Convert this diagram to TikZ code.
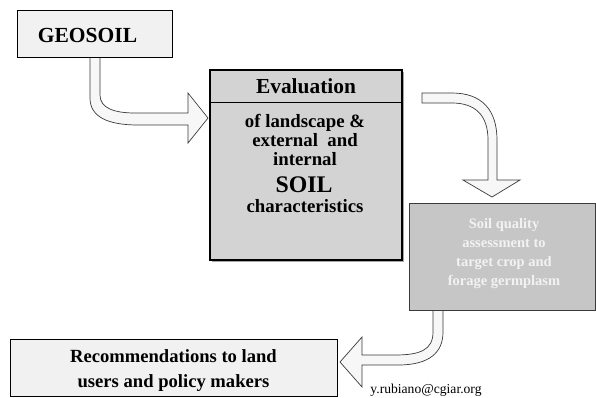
\documentclass[tikz,border=0pt]{standalone}
\usepackage{fontspec}
\setmainfont{Liberation Serif}
\definecolor{lightbox}{HTML}{F1F1F1}
\definecolor{evalfill}{HTML}{D3D3D3}
\definecolor{soilfill}{HTML}{C6C6C6}
\definecolor{soiltext}{HTML}{F2F2F2}
\definecolor{arrowfill}{HTML}{F7F7F7}
\definecolor{arrowline}{HTML}{3A3A3A}
\begin{document}
\begin{tikzpicture}[x=1pt,y=-1pt,
  blockarrow/.style={fill=arrowfill,draw=arrowline,line width=0.7pt,line join=miter},
  lightnode/.style={draw=black,fill=lightbox,line width=0.6pt,inner sep=0pt},
  txt/.style={anchor=base,inner sep=0pt,font=\bfseries}]
\useasboundingbox (0,0) rectangle (596,397);
% block arrows (drawn first, boxes cover their ends)
\draw[blockarrow] (90,56) -- (90,98) .. controls (90,117) and (108,125) .. (138,125)
  -- (188,125) -- (188,143) -- (208,118) -- (188,93) -- (188,113) -- (135,113)
  .. controls (114,113) and (100,108) .. (100,95) -- (100,56);
\draw[blockarrow] (422,93) -- (452,93) .. controls (482,93) and (497,110) .. (497,140)
  -- (497,180) -- (520,180) -- (492,197) -- (463,180) -- (488,180) -- (488,140)
  .. controls (488,115) and (475,103) .. (452,103) -- (422,103) -- cycle;
\draw[blockarrow] (433,311) -- (433,332) .. controls (433,350) and (420,355) .. (395,355)
  -- (362,355) -- (362,337) -- (340,362) -- (362,387) -- (362,365) -- (398,365)
  .. controls (430,365) and (443,352) .. (443,332) -- (443,311);
% GEOSOIL
\node[lightnode,minimum width=155pt,minimum height=47pt] (geo) at (94.5,33.5) {};
\node[txt,font=\bfseries\fontsize{21.5}{24}\selectfont] (geot) at (87.5,42) {GEOSOIL};
% Evaluation box
\fill[gray!70] (212,72) rectangle (404,262);
\node[draw=black,fill=evalfill,line width=1.8pt,minimum width=192pt,minimum height=190pt,inner sep=0pt] (eval) at (306,165) {};
\draw[black,line width=0.8pt] (210,102) -- (402,102);
\node[txt,font=\bfseries\fontsize{21.4}{24}\selectfont] (evt) at (306,93) {Evaluation};
\node[txt,font=\bfseries\fontsize{18.8}{21}\selectfont] (ev1) at (305,127) {of landscape \&};
\node[txt,font=\bfseries\fontsize{18.8}{21}\selectfont] (ev2) at (305,146) {external\ \ and};
\node[txt,font=\bfseries\fontsize{18.8}{21}\selectfont] (ev3) at (305,165) {internal};
\node[txt,font=\bfseries\fontsize{23.8}{26}\selectfont] (ev4) at (304,192) {SOIL};
\node[txt,font=\bfseries\fontsize{18.8}{21}\selectfont] (ev5) at (305,212) {characteristics};
% Soil quality box
\node[draw=arrowline,fill=soilfill,line width=0.7pt,minimum width=186pt,minimum height=107pt,inner sep=0pt] (soil) at (502,256.5) {};
\node[txt,text=soiltext,font=\bfseries\fontsize{14.5}{17}\selectfont] (s1) at (504,228) {Soil quality};
\node[txt,text=soiltext,font=\bfseries\fontsize{14.5}{17}\selectfont] (s2) at (504,247) {assessment to};
\node[txt,text=soiltext,font=\bfseries\fontsize{14.5}{17}\selectfont] (s3) at (504,266) {target crop and};
\node[txt,text=soiltext,font=\bfseries\fontsize{14.5}{17}\selectfont] (s4) at (504,285) {forage germplasm};
% Recommendations box
\node[lightnode,minimum width=327pt,minimum height=57pt] (rec) at (173.5,367.5) {};
\node[txt,font=\bfseries\fontsize{18.6}{21}\selectfont] (r1) at (173.5,362) {Recommendations to land};
\node[txt,font=\bfseries\fontsize{18.6}{21}\selectfont] (r2) at (173.5,387) {users and policy makers};
% email
\node[anchor=base,inner sep=0pt,font=\fontsize{13.6}{16}\selectfont] (mail) at (426,393) {y.rubiano@cgiar.org};
\end{tikzpicture}
\end{document}
